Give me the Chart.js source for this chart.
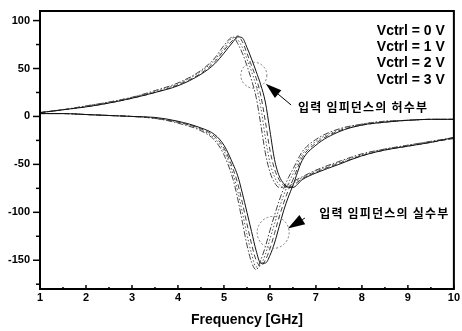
<!DOCTYPE html>
<html>
<head>
<meta charset="utf-8">
<script src="https://cdn.jsdelivr.net/npm/chart.js@4.4.1/dist/chart.umd.min.js"></script>
<style>
  html, body { margin: 0; padding: 0; background: #fff; }
  #wrap { width: 462px; height: 331px; }
</style>
</head>
<body>
<div id="wrap"><canvas id="impChart" width="462" height="331"></canvas></div>
<script>
// Frequency points (GHz)
const freq = [1, 1.5, 2, 2.5, 3, 3.5, 4, 4.5, 4.8, 5, 5.2, 5.3, 5.4, 5.5, 5.6, 5.7, 5.8, 5.9,
              6, 6.1, 6.2, 6.3, 6.4, 6.5, 6.7, 7, 7.5, 8, 8.5, 9, 9.5, 10];

// Imaginary part of input impedance, per control voltage
const imagV0 = [4, 7, 10, 14, 19, 25, 32, 44, 55, 66, 78, 83, 82, 72, 60, 47, 33, 15,
                -15, -45, -62, -70, -74, -74, -66, -59, -50, -41, -35, -31, -27, -22];
const imagV1 = [4, 7, 10, 14, 19, 25, 33, 45, 57, 69, 80, 84, 78, 66, 53, 40, 22, -5,
                -35, -55, -66, -72, -74, -72, -65, -58, -49, -41, -35, -31, -27, -23];
const imagV2 = [4, 7, 11, 15, 20, 26, 34, 47, 59, 71, 82, 80, 72, 60, 47, 32, 10, -22,
                -48, -63, -71, -74, -73, -70, -64, -57, -48, -40, -34, -30, -26, -23];
const imagV3 = [4, 7, 11, 15, 20, 27, 35, 48, 61, 74, 83, 76, 66, 53, 38, 20, -8, -38,
                -58, -69, -74, -74, -71, -68, -63, -56, -47, -39, -34, -30, -26, -22];

// Real part of input impedance, per control voltage
const realV0 = [3, 3, 2, 1, 0, -1, -5, -12, -19, -30, -50, -62, -80, -100, -120, -140, -153, -153,
                -145, -132, -115, -98, -84, -72, -46, -30, -16, -9, -6, -4, -3, -3];
const realV1 = [3, 3, 2, 1, 0, -2, -6, -13, -21, -33, -55, -70, -90, -112, -133, -150, -156, -150,
                -138, -122, -105, -90, -77, -66, -43, -28, -15, -9, -6, -4, -3, -3];
const realV2 = [3, 3, 2, 1, 0, -2, -6, -14, -23, -36, -60, -78, -100, -123, -143, -157, -155, -144,
                -128, -112, -96, -82, -70, -60, -40, -26, -14, -8, -5, -4, -3, -3];
const realV3 = [3, 3, 2, 1, 0, -2, -7, -15, -25, -40, -66, -86, -110, -134, -152, -160, -150, -136,
                -119, -103, -88, -75, -64, -55, -37, -24, -13, -8, -5, -4, -3, -3];

const seriesLabels = ['Vctrl = 0 V', 'Vctrl = 1 V', 'Vctrl = 2 V', 'Vctrl = 3 V'];

// Axis ticks
const xMajor = [1, 2, 3, 4, 5, 6, 7, 8, 9, 10];
const xMinor = [1.5, 2.5, 3.5, 4.5, 5.5, 6.5, 7.5, 8.5, 9.5];
const yMajor = [-150, -100, -50, 0, 50, 100];
const yMinor = [-175, -125, -75, -25, 25, 75];

const xTitle = 'Frequency [GHz]';
const noteImag = '입력 임피던스의 허수부';
const noteReal = '입력 임피던스의 실수부';

const FONT = '"Liberation Sans", Arial, sans-serif';
const KFONT = '"Noto Sans CJK KR", "Noto Sans", sans-serif';

// line look for each control voltage
const styles = [
    { color: '#111', dash: [] },
    { color: '#444', dash: [5, 3] },
    { color: '#555', dash: [1.5, 2] },
    { color: '#444', dash: [6, 2, 1.5, 2] }
];

function toPoints(arr) {
    return freq.map((f, i) => ({ x: f, y: arr[i] }));
}

const realSets = [realV0, realV1, realV2, realV3];
const imagSets = [imagV0, imagV1, imagV2, imagV3];
const datasets = [];
[imagSets, realSets].forEach((group, g) => {
    group.forEach((arr, i) => {
        datasets.push({
            label: seriesLabels[i] + (g === 0 ? ' (Im)' : ' (Re)'),
            data: toPoints(arr),
            borderColor: styles[i].color,
            borderDash: styles[i].dash,
            borderWidth: 1,
            pointRadius: 0,
            cubicInterpolationMode: 'monotone',
            fill: false
        });
    });
});

// draws a straight arrow with a filled head, tip at (x2, y2)
function drawArrow(ctx, x1, y1, x2, y2, headLen, headW) {
    const ang = Math.atan2(y2 - y1, x2 - x1);
    const bx = x2 - headLen * Math.cos(ang);
    const by = y2 - headLen * Math.sin(ang);
    ctx.beginPath();
    ctx.moveTo(x1, y1);
    ctx.lineTo(bx, by);
    ctx.stroke();
    ctx.beginPath();
    ctx.moveTo(x2, y2);
    ctx.lineTo(bx + headW / 2 * Math.sin(ang), by - headW / 2 * Math.cos(ang));
    ctx.lineTo(bx - headW / 2 * Math.sin(ang), by + headW / 2 * Math.cos(ang));
    ctx.closePath();
    ctx.fill();
}

const decorPlugin = {
    id: 'decor',
    afterDraw(chart) {
        const { ctx, chartArea: a } = chart;
        const x = chart.scales.x;
        const y = chart.scales.y;
        ctx.save();

        // frame
        ctx.strokeStyle = '#000';
        ctx.lineWidth = 2;
        ctx.strokeRect(a.left, a.top, a.right - a.left, a.bottom - a.top);

        // y ticks point outward, x ticks inward
        ctx.lineWidth = 1.5;
        y.ticks.forEach(t => {
            const py = y.getPixelForValue(t.value);
            const len = yMajor.includes(t.value) ? 7 : 4;
            ctx.beginPath();
            ctx.moveTo(a.left - len, py);
            ctx.lineTo(a.left, py);
            ctx.stroke();
        });
        x.ticks.forEach(t => {
            const px = x.getPixelForValue(t.value);
            const len = xMajor.includes(t.value) ? 4 : 2;
            ctx.beginPath();
            ctx.moveTo(px, a.bottom);
            ctx.lineTo(px, a.bottom - len);
            ctx.stroke();
        });

        // legend, text only
        ctx.fillStyle = '#000';
        ctx.font = 'bold 14px ' + FONT;
        ctx.textAlign = 'right';
        ctx.textBaseline = 'middle';
        seriesLabels.forEach((s, i) => {
            ctx.fillText(s, a.right - 9, a.top + 20 + i * 16.3);
        });

        // dashed circles marking the two parts
        ctx.strokeStyle = '#777';
        ctx.lineWidth = 1;
        ctx.setLineDash([2, 2]);
        ctx.beginPath();
        ctx.arc(x.getPixelForValue(5.65), y.getPixelForValue(43), 13, 0, Math.PI * 2);
        ctx.stroke();
        ctx.beginPath();
        ctx.arc(x.getPixelForValue(6.07), y.getPixelForValue(-121), 16, 0, Math.PI * 2);
        ctx.stroke();
        ctx.setLineDash([]);

        // arrows
        ctx.strokeStyle = '#000';
        ctx.fillStyle = '#000';
        ctx.lineWidth = 1;
        drawArrow(ctx, x.getPixelForValue(6.46), y.getPixelForValue(12),
                  x.getPixelForValue(5.91), y.getPixelForValue(34), 16, 10);
        drawArrow(ctx, x.getPixelForValue(6.76), y.getPixelForValue(-106),
                  x.getPixelForValue(6.39), y.getPixelForValue(-117), 17, 11);

        // notes
        ctx.font = 'bold 12px ' + KFONT;
        ctx.textAlign = 'left';
        ctx.textBaseline = 'middle';
        ctx.letterSpacing = '1.2px';
        ctx.fillText(noteImag, x.getPixelForValue(6.61), y.getPixelForValue(9));
        ctx.fillText(noteReal, x.getPixelForValue(7.07), y.getPixelForValue(-101));
        ctx.restore();
    }
};

const chart = new Chart(document.getElementById('impChart').getContext('2d'), {
    type: 'line',
    data: { datasets: datasets },
    options: {
        responsive: false,
        animation: false,
        devicePixelRatio: 1,
        layout: { padding: { left: 0, right: 8, top: 11, bottom: 0 } },
        plugins: {
            legend: { display: false },
            tooltip: { enabled: false }
        },
        scales: {
            x: {
                type: 'linear',
                min: 1,
                max: 10,
                afterFit: function(axis) { axis.height = 42; },
                afterBuildTicks: function(axis) {
                    axis.ticks = xMajor.concat(xMinor).sort((p, q) => p - q).map(v => ({ value: v }));
                },
                grid: { display: false, drawTicks: false },
                border: { display: false },
                ticks: {
                    autoSkip: false,
                    maxRotation: 0,
                    padding: 2,
                    color: '#000',
                    font: { family: FONT, size: 11, weight: 'bold' },
                    callback: function(v) { return xMajor.includes(v) ? String(v) : ''; }
                },
                title: {
                    display: true,
                    text: xTitle,
                    color: '#000',
                    font: { family: FONT, size: 14, weight: 'bold' },
                    padding: { top: 0, bottom: 2 }
                }
            },
            y: {
                min: -180,
                max: 110,
                afterFit: function(axis) { axis.width = 40; },
                afterBuildTicks: function(axis) {
                    axis.ticks = yMajor.concat(yMinor).sort((p, q) => p - q).map(v => ({ value: v }));
                },
                // tick marks themselves are drawn by the decor plugin
                grid: { drawOnChartArea: false, drawTicks: true, tickLength: 7, tickColor: 'rgba(0,0,0,0)' },
                border: { display: false },
                ticks: {
                    autoSkip: false,
                    padding: 3,
                    color: '#000',
                    font: { family: FONT, size: 11, weight: 'bold' },
                    callback: function(v) { return yMajor.includes(v) ? String(v) : ''; }
                }
            }
        }
    },
    plugins: [decorPlugin]
});
</script>
</body>
</html>
